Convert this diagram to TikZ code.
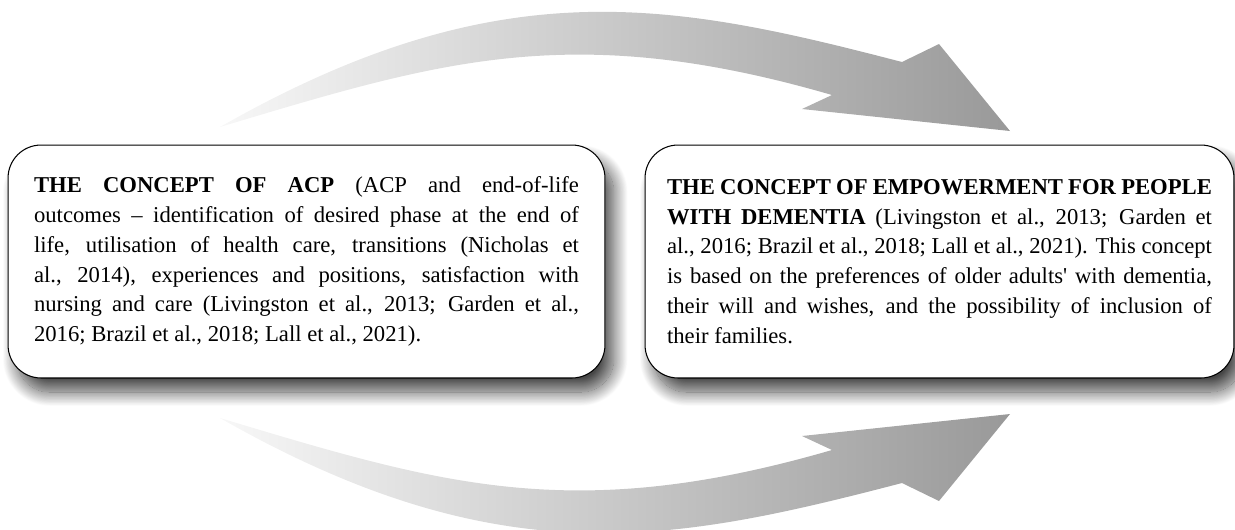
\documentclass[tikz,border=0pt]{standalone}
\usepackage{fontspec}
\setmainfont{Liberation Serif}[Ligatures=TeXOff]
\usetikzlibrary{shadows.blur}
\definecolor{arrowlight}{gray}{0.97}
\definecolor{arrowdark}{gray}{0.6}
\newcommand\conceptfont{\fontsize{12.9}{17}\selectfont\tolerance=10000
  \hyphenpenalty=10000 \exhyphenpenalty=10000 \emergencystretch=0pt }
\begin{document}
\begin{tikzpicture}[x=0.02cm,y=-0.02cm,
  concept/.style={draw=black, line width=0.6pt, fill=white,
    rounded corners=0.66cm, minimum height=4.66cm,
    text width=10.9cm, inner sep=0pt, align=justify,
    font=\conceptfont,
    blur shadow={shadow xshift=5pt, shadow yshift=-8pt,
      shadow blur radius=8pt, shadow opacity=72, shadow blur steps=24}},
  bigarrow/.style={left color=arrowlight, right color=arrowdark}]
\useasboundingbox (0,0) rectangle (1235,529);

% top curved arrow
\shade[bigarrow] (220,127) .. controls (500,-32.6) and (672,2.2) .. (902,62)
  -- (939,44) -- (1010,131) -- (802,109) -- (832,95)
  .. controls (572,19.6) and (440,61) .. (220,127) -- cycle;

% bottom curved arrow
\shade[bigarrow] (220,418) .. controls (500,577.6) and (672,542.8) .. (902,483)
  -- (939,501) -- (1010,414) -- (802,436) -- (832,450)
  .. controls (572,525.4) and (440,484) .. (220,418) -- cycle;

\node[concept, minimum width=11.94cm] (acp) at (306.5,261.5) {%
\textbf{THE CONCEPT OF ACP} (ACP and end-of-life\linebreak
outcomes – identification of desired phase at the end of\linebreak
life, utilisation of health care, transitions (Nicholas et\linebreak
al., 2014), experiences and positions, satisfaction with\linebreak
nursing and care (Livingston et al., 2013; Garden et al.,\linebreak
2016; Brazil et al., 2018; Lall et al., 2021).};

\node[concept, minimum width=11.78cm] (emp) at (939.5,261.5) {%
\textbf{THE CONCEPT OF EMPOWERMENT FOR PEOPLE}\linebreak
\textbf{WITH DEMENTIA} (Livingston et al., 2013; Garden et\linebreak
al., 2016; Brazil et al., 2018; Lall et al., 2021). This concept\linebreak
is based on the preferences of older adults' with dementia,\linebreak
their will and wishes, and the possibility of inclusion of\linebreak
their families.};
\end{tikzpicture}
\end{document}
